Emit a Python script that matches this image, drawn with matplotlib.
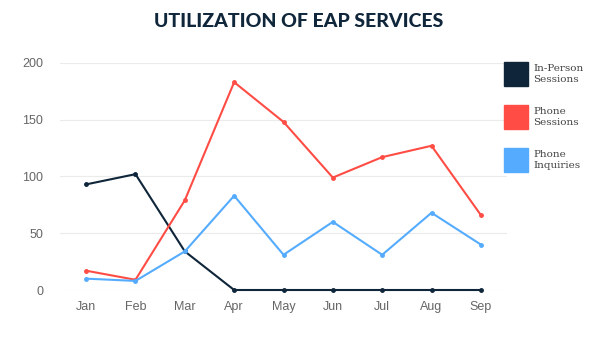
import matplotlib.pyplot as plt
from matplotlib.patches import Rectangle

months = ['Jan', 'Feb', 'Mar', 'Apr', 'May', 'Jun', 'Jul', 'Aug', 'Sep']
in_person = [93, 102, 34, 0, 0, 0, 0, 0, 0]
phone_sessions = [17, 9, 79, 183, 148, 99, 117, 127, 66]
phone_inquiries = [10, 8, 34, 83, 31, 60, 31, 68, 40]

series_names = ['In-Person\nSessions', 'Phone\nSessions', 'Phone\nInquiries']
series_colors = ['#0f2539', '#ff4d45', '#55acff']

fig = plt.figure(figsize=(6, 3.38), dpi=100)
ax = fig.add_axes([0.1, 0.142, 0.745, 0.672])

x = list(range(len(months)))
for vals, color in zip([in_person, phone_sessions, phone_inquiries], series_colors):
    ax.plot(x, vals, color=color, lw=1.5, marker='o', ms=2.5, clip_on=False, zorder=3)

ax.set_xlim(-0.53, 8.53)
ax.set_ylim(0, 200)
ax.set_yticks([0, 50, 100, 150, 200])
ax.set_xticks(x)
ax.set_xticklabels(months)
ax.grid(axis='y', color='#ebebeb', lw=0.8)
ax.set_axisbelow(True)
for s in ax.spines.values():
    s.set_visible(False)
ax.tick_params(length=0, labelsize=9, labelcolor='#666666', pad=8)
ax.tick_params(axis='y', pad=12)
for lbl in ax.get_xticklabels() + ax.get_yticklabels():
    lbl.set_family('Liberation Sans')

fig.text(0.497, 0.935, 'UTILIZATION OF EAP SERVICES', ha='center', va='center',
         fontsize=14, fontweight='black', color='#10263a', family='Lato')

# legend boxes on the right
for i, (name, color) in enumerate(zip(series_names, series_colors)):
    top = 62 + i * 43
    fig.patches.append(Rectangle((504 / 600, 1 - (top + 24) / 338), 24 / 600, 24 / 338,
                                 transform=fig.transFigure, color=color))
    fig.text(533 / 600, 1 - (top + 12) / 338, name, ha='left', va='center',
             fontsize=7.5, color='#444444', family='DejaVu Serif', linespacing=1.2)

fig.savefig('out.png', dpi=100)
